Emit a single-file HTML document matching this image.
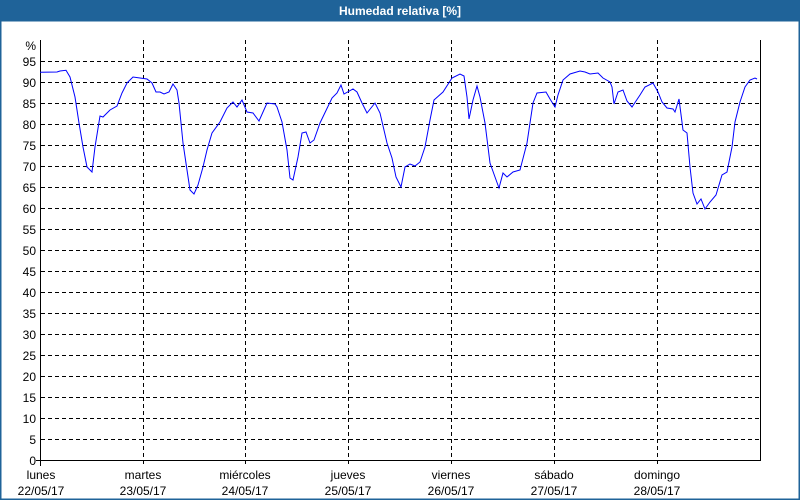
<!DOCTYPE html>
<html><head><meta charset="utf-8"><style>
html,body{margin:0;padding:0;background:#fff;}
body{width:800px;height:500px;overflow:hidden;position:relative;font-family:"Liberation Sans",sans-serif;}
</style></head><body>
<svg width="800" height="500" xmlns="http://www.w3.org/2000/svg" style="position:absolute;left:0;top:0">
<rect x="0" y="0" width="800" height="500" fill="#fff"/>
<rect x="0" y="0" width="800" height="21" fill="#1f6399"/>
<rect x="0.5" y="20.5" width="799" height="479" fill="none" stroke="#1f6399" stroke-width="2"/>
<text x="400" y="15" fill="#fff" font-size="12" font-weight="bold" text-anchor="middle" font-family="Liberation Sans, sans-serif">Humedad relativa [%]</text>
<g stroke="#000" stroke-width="1" stroke-dasharray="4,3" shape-rendering="crispEdges">
<line x1="41" x2="760" y1="61.5" y2="61.5"/><line x1="41" x2="760" y1="82.5" y2="82.5"/><line x1="41" x2="760" y1="103.5" y2="103.5"/><line x1="41" x2="760" y1="124.5" y2="124.5"/><line x1="41" x2="760" y1="145.5" y2="145.5"/><line x1="41" x2="760" y1="166.5" y2="166.5"/><line x1="41" x2="760" y1="187.5" y2="187.5"/><line x1="41" x2="760" y1="208.5" y2="208.5"/><line x1="41" x2="760" y1="229.5" y2="229.5"/><line x1="41" x2="760" y1="250.5" y2="250.5"/><line x1="41" x2="760" y1="271.5" y2="271.5"/><line x1="41" x2="760" y1="292.5" y2="292.5"/><line x1="41" x2="760" y1="313.5" y2="313.5"/><line x1="41" x2="760" y1="334.5" y2="334.5"/><line x1="41" x2="760" y1="355.5" y2="355.5"/><line x1="41" x2="760" y1="376.5" y2="376.5"/><line x1="41" x2="760" y1="397.5" y2="397.5"/><line x1="41" x2="760" y1="418.5" y2="418.5"/><line x1="41" x2="760" y1="439.5" y2="439.5"/>
<line x1="143.5" x2="143.5" y1="40" y2="466"/><line x1="245.5" x2="245.5" y1="40" y2="466"/><line x1="348.5" x2="348.5" y1="40" y2="466"/><line x1="451.5" x2="451.5" y1="40" y2="466"/><line x1="554.5" x2="554.5" y1="40" y2="466"/><line x1="657.5" x2="657.5" y1="40" y2="466"/>
</g>
<g stroke="#000" stroke-width="1" fill="none" shape-rendering="crispEdges">
<polyline points="40.5,40 40.5,460.5 760.5,460.5 760.5,40"/>
<line x1="40.5" x2="40.5" y1="460" y2="466"/>
<line x1="36" x2="41" y1="460.5" y2="460.5"/>
</g>
<polyline fill="none" stroke="#0000ff" stroke-width="1" points="40,72.3 57,72 60,71 66,70.3 70,77 75,97 79,123 83,147 87,167 92,172 95,147 100,116 103,117 110,110 117,106 122,93 127,83 133,77 140,78 147,79 152,83 156,92 160,92 164,94 169,92 173,84 177,90 179,103 183,143 187,170 190,190 194,194 198,185 203,167 207,150 212,133 220,122 227,108 233,102 237,107 242,100 247,112 253,113 259,121 267,103 275,104 277,107 282,122 287,150 290,178 293,180 298,157 302,133 306,132 310,143 314,140 320,123 332,98 337,93 341,85 344,94 353,89 357,92 362,103 367,113 375,103 380,113 387,143 392,158 396,177 401,187 405,167 410,164 415,166 420,162 425,147 430,120 434,100 443,92 452,78 460,74 464,76 467,97 469,119 473,100 477,86 480,97 485,123 490,163 495,177 499,188 503,173 507,177 513,172 520,170 527,143 533,103 537,93 546,92 550,99 555,107 558,95 563,80 570,74 580,71 585,72 590,74 598,73 603,78 610,82 612,87 614,104 618,92 623,90 627,101 632,107 640,95 645,87 653,83 658,92 662,102 667,108 673,109 675,112 679,99 683,130 687,133 690,167 693,193 697,204 701,199 705,209 710,202 716,195 722,175 727,172 732,147 735,122 740,102 745,87 750,80 755,78 757,79"/>
<g font-size="12" fill="#000" text-anchor="end" font-family="Liberation Sans, sans-serif">
<text x="36" y="50">%</text>
<text x="36" y="66">95</text><text x="36" y="87">90</text><text x="36" y="108">85</text><text x="36" y="129">80</text><text x="36" y="150">75</text><text x="36" y="171">70</text><text x="36" y="192">65</text><text x="36" y="213">60</text><text x="36" y="234">55</text><text x="36" y="255">50</text><text x="36" y="276">45</text><text x="36" y="297">40</text><text x="36" y="318">35</text><text x="36" y="339">30</text><text x="36" y="360">25</text><text x="36" y="381">20</text><text x="36" y="402">15</text><text x="36" y="423">10</text><text x="36" y="444">5</text><text x="36" y="465">0</text>
</g>
<g font-size="12" fill="#000" text-anchor="middle" font-family="Liberation Sans, sans-serif">
<text x="41" y="479">lunes</text><text x="41" y="495">22/05/17</text>
<text x="143" y="479">martes</text><text x="143" y="495">23/05/17</text>
<text x="245" y="479">miércoles</text><text x="245" y="495">24/05/17</text>
<text x="348" y="479">jueves</text><text x="348" y="495">25/05/17</text>
<text x="451" y="479">viernes</text><text x="451" y="495">26/05/17</text>
<text x="554" y="479">sábado</text><text x="554" y="495">27/05/17</text>
<text x="657" y="479">domingo</text><text x="657" y="495">28/05/17</text>
</g>
</svg>
</body></html>
